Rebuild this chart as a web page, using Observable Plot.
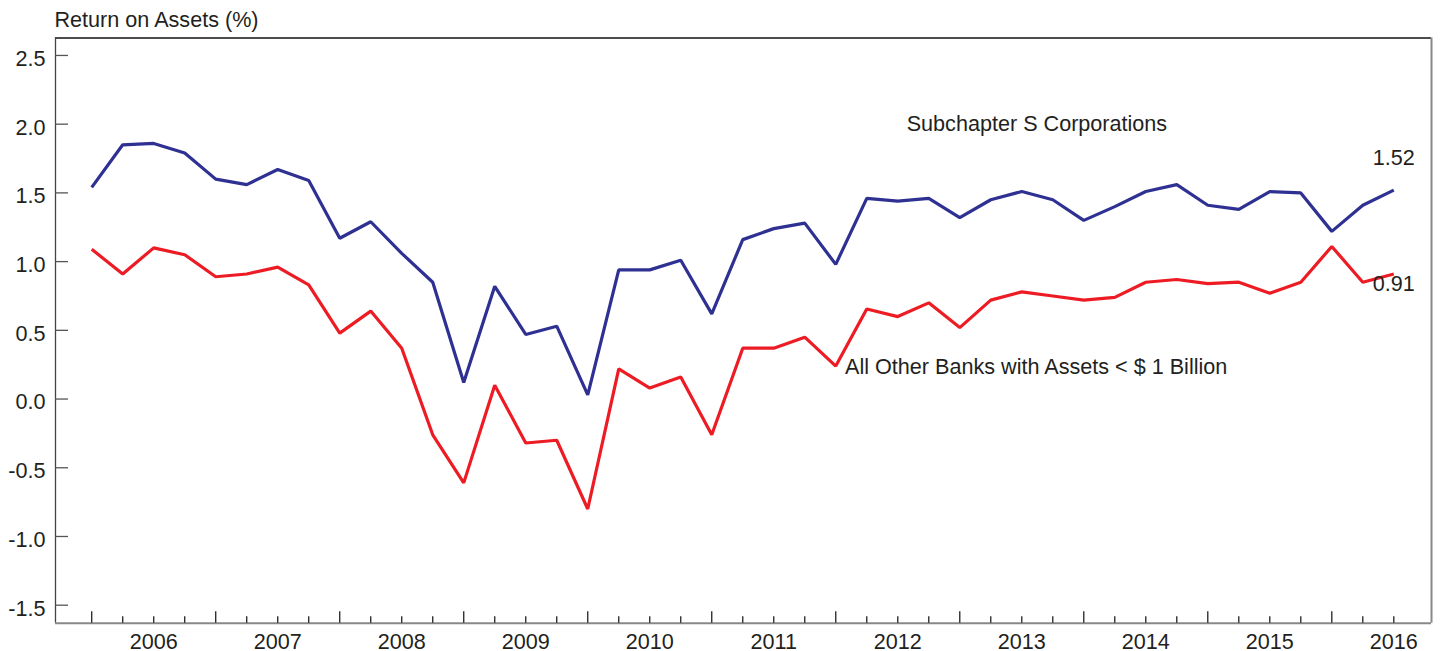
<!DOCTYPE html>
<html>
<head>
<meta charset="utf-8">
<script src="https://cdn.jsdelivr.net/npm/d3@7"></script>
<script src="https://cdn.jsdelivr.net/npm/@observablehq/plot@0.6"></script>
<style>
  html, body { margin: 0; padding: 0; background: #fff; }
</style>
</head>
<body>
<div id="chart"></div>
<script>
// Quarter (end-of-quarter) labels
const quarters = [
  "2005Q4",
  "2006Q1","2006Q2","2006Q3","2006Q4",
  "2007Q1","2007Q2","2007Q3","2007Q4",
  "2008Q1","2008Q2","2008Q3","2008Q4",
  "2009Q1","2009Q2","2009Q3","2009Q4",
  "2010Q1","2010Q2","2010Q3","2010Q4",
  "2011Q1","2011Q2","2011Q3","2011Q4",
  "2012Q1","2012Q2","2012Q3","2012Q4",
  "2013Q1","2013Q2","2013Q3","2013Q4",
  "2014Q1","2014Q2","2014Q3","2014Q4",
  "2015Q1","2015Q2","2015Q3","2015Q4",
  "2016Q1","2016Q2"
];

// Return on assets (%), Subchapter S corporations
const subchapterS = [
  1.54,
  1.85, 1.86, 1.79, 1.60,
  1.56, 1.67, 1.59, 1.17,
  1.29, 1.06, 0.85, 0.12,
  0.82, 0.47, 0.53, 0.03,
  0.94, 0.94, 1.01, 0.62,
  1.16, 1.24, 1.28, 0.98,
  1.46, 1.44, 1.46, 1.32,
  1.45, 1.51, 1.45, 1.30,
  1.40, 1.51, 1.56, 1.41,
  1.38, 1.51, 1.50, 1.22,
  1.41, 1.52
];

// Return on assets (%), all other banks with assets < $1 billion
const allOtherBanks = [
  1.09,
  0.91, 1.10, 1.05, 0.89,
  0.91, 0.96, 0.83, 0.48,
  0.64, 0.37, -0.26, -0.61,
  0.10, -0.32, -0.30, -0.80,
  0.22, 0.08, 0.16, -0.26,
  0.37, 0.37, 0.45, 0.24,
  0.655, 0.60, 0.70, 0.52,
  0.72, 0.78, 0.75, 0.72,
  0.74, 0.85, 0.87, 0.84,
  0.85, 0.77, 0.85, 1.11,
  0.85, 0.91
];

const seriesNames = ["Subchapter S Corporations", "All Other Banks with Assets < $ 1 Billion"];
const seriesColors = ["#2e3192", "#ed1c24"];
const yTicks = [-1.5, -1.0, -0.5, 0.0, 0.5, 1.0, 1.5, 2.0, 2.5];
const yearLabels = [2006, 2007, 2008, 2009, 2010, 2011, 2012, 2013, 2014, 2015, 2016];
const axisTitle = "Return on Assets (%)";

// Build table: t = year + quarter/4 (end of quarter position)
const toT = q => +q.slice(0, 4) + (+q.slice(5)) / 4;
const rows = [];
quarters.forEach((q, i) => {
  rows.push({t: toT(q), value: subchapterS[i], series: seriesNames[0]});
  rows.push({t: toT(q), value: allOtherBanks[i], series: seriesNames[1]});
});
const tAll = quarters.map(toT);
const longTicks = tAll.filter(t => Number.isInteger(t));
const shortTicks = tAll.filter(t => !Number.isInteger(t));
const lastS = {t: tAll[tAll.length - 1], value: subchapterS[subchapterS.length - 1]};
const lastO = {t: tAll[tAll.length - 1], value: allOtherBanks[allOtherBanks.length - 1]};

const W = 1441, H = 651;
const mL = 55, mR = 10, mT = 37.5, mB = 28.3;
const xDomain = [2005.708, 2016.804];
const yDomain = [-1.631, 2.627];
const plotW = W - mL - mR, plotH = H - mT - mB;
const ink = "#231f20";

const chart = Plot.plot({
  width: W,
  height: H,
  marginLeft: mL,
  marginRight: mR,
  marginTop: mT,
  marginBottom: mB,
  style: {
    fontFamily: "'Liberation Sans', Arial, Helvetica, sans-serif",
    fontSize: "21.6px",
    color: ink,
    background: "#fff",
    overflow: "visible"
  },
  x: {type: "linear", domain: xDomain, axis: null},
  y: {domain: yDomain, axis: null},
  color: {domain: seriesNames, range: seriesColors},
  marks: [
    // frame
    Plot.ruleY([yDomain[1]], {stroke: "#111", strokeWidth: 1.3}),
    Plot.ruleX([xDomain[1]], {stroke: "#888", strokeWidth: 2}),
    Plot.ruleX([xDomain[0]], {stroke: "#444", strokeWidth: 1.3}),
    Plot.ruleY([yDomain[0]], {stroke: "#888", strokeWidth: 2}),
    // y ticks (inward) and labels
    Plot.tickY(yTicks, {y: d => d, stroke: "#555", strokeWidth: 1.3, insetRight: plotW - 13}),
    Plot.axisY(yTicks, {tickSize: 0, tickPadding: 10, tickFormat: d => d.toFixed(1), dy: 3.5, fill: ink, label: null, fontVariant: "normal"}),
    // x ticks (inward) and year labels
    Plot.tickX(longTicks, {x: d => d, stroke: ink, strokeWidth: 1.3, insetTop: plotH - 11.5}),
    Plot.tickX(shortTicks, {x: d => d, stroke: ink, strokeWidth: 1.3, insetTop: plotH - 6.5}),
    Plot.axisX(yearLabels.map(y => y + 0.5), {tickSize: 0, tickPadding: 10, tickFormat: d => String(Math.floor(d)), fill: ink, label: null, fontVariant: "normal"}),
    // lines
    Plot.line(rows, {x: "t", y: "value", z: "series", stroke: "series", strokeWidth: 3.2, strokeLinejoin: "miter", strokeLinecap: "butt"}),
    // end values
    Plot.text([lastS], {x: "t", y: "value", text: d => d.value.toFixed(2), dy: -32, fill: ink}),
    Plot.text([lastO], {x: "t", y: "value", text: d => d.value.toFixed(2), dy: 10.5, fill: ink}),
    // series annotations
    Plot.text([seriesNames[0]], {x: 2012.572, y: 2.0, text: d => d, textAnchor: "start", fill: ink}),
    Plot.text([seriesNames[1]], {x: 2012.075, y: 0.23, text: d => d, textAnchor: "start", fill: ink}),
    // axis title
    Plot.text([axisTitle], {frameAnchor: "top-left", text: d => d, dx: -1, dy: -18, textAnchor: "start", lineAnchor: "middle", fill: ink})
  ]
});
document.getElementById("chart").appendChild(chart);
</script>
</body>
</html>
